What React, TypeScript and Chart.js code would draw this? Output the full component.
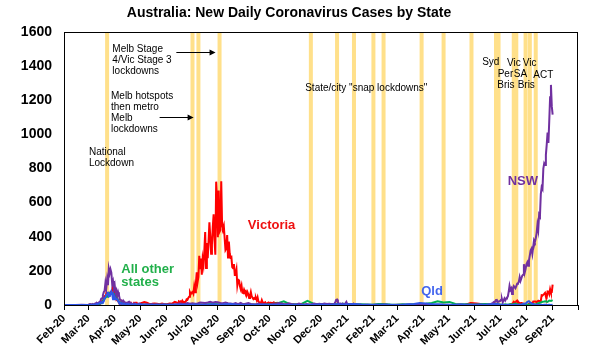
import React, { useEffect, useRef } from 'react';
import { Chart, registerables } from 'chart.js';

Chart.register(...registerables);

const FONT = '"Liberation Sans", Arial, Helvetica, sans-serif';

const chartTitle = 'Australia: New Daily Coronavirus Cases by State';

// x-axis tick labels, one per month start from Feb 2020 to Oct 2021 (last one unlabeled)
const monthLabels = [
  'Feb-20', 'Mar-20', 'Apr-20', 'May-20', 'Jun-20', 'Jul-20', 'Aug-20', 'Sep-20', 'Oct-20', 'Nov-20',
  'Dec-20', 'Jan-21', 'Feb-21', 'Mar-21', 'Apr-21', 'May-21', 'Jun-21', 'Jul-21', 'Aug-21', 'Sep-21', '',
];

// lockdown start dates (vertical bands)
const lockdownDates = [
  '2020-03-23', '2020-07-02', '2020-07-09', '2020-08-03', '2020-11-19', '2020-12-20',
  '2021-01-09', '2021-02-01', '2021-02-13', '2021-03-30', '2021-04-25', '2021-05-28',
  '2021-06-26', '2021-06-29', '2021-07-17', '2021-07-20', '2021-07-31', '2021-08-05', '2021-08-12',
];

type Segment = { from: string; every: number; values: number[] };

// ---------------- Victoria ----------------
const vicFeb20: Segment = { from: '2020-02-01', every: 7, values: [0, 0, 0, 0, 0] };
const vicFirstWave: Segment = {
  from: '2020-03-01', every: 1, values: [
    0, 2, 1, 1, 2, 1, 1, 0, 2, 3,
    2, 4, 9, 13, 8, 14, 23, 27, 29, 51,
    49, 67, 56, 56, 55, 54, 75, 70, 86, 108, 96,
    67, 51, 31, 36, 24, 14, 13, 8, 20, 9, 14, 7, 9, 6, 1, 3, 4, 11, 9, 13, 3, 4, 3, 13, 11, 13, 13, 3, 3, 7,
  ],
};
const vicMayJun20: Segment = { from: '2020-05-03', every: 3, values: [12, 17, 13, 6, 7, 9, 7, 4, 9, 5, 4, 9, 8, 19] };
const vicSecondWave: Segment = {
  from: '2020-06-15', every: 1, values: [
    12, 21, 18, 21, 13, 25, 16, 19, 17, 20, 33, 30, 41, 49, 75, 64,
    73, 77, 66, 108, 74, 127, 191, 134, 165, 288, 216, 273, 177, 270, 238, 317, 428, 217, 363, 275,
    374, 484, 403, 300, 357, 459, 532, 384, 295, 723, 627,
    397, 671, 429, 439, 725, 471, 450, 466, 394, 322, 331, 410, 278, 372, 303, 279, 282, 222, 216, 240,
    179, 182, 208, 116, 148, 149, 113, 94, 114, 73, 70,
    90, 76, 81, 59, 76, 63, 41, 55, 76, 51, 43, 35, 41, 35, 42, 28, 45, 21, 14, 14, 11, 28, 15, 14, 12, 16, 5, 10, 13, 15,
    8, 12, 6, 12, 11, 15, 13, 11, 12, 13, 4, 2, 9, 4, 3,
  ],
};
const vicQuiet: Segment = {
  from: '2020-10-22', every: 7, values: [
    3, 2, 0, 1, 0, 0, 0, 0, 0, 0, 3, 6, 1, 0, 0, 0, 5, 2, 0, 0, 0, 0, 0, 0, 0, 0, 0, 0, 0, 0, 0, 12, 9, 4, 1, 0,
  ],
};
const vicDelta: Segment = {
  from: '2021-07-01', every: 1, values: [
    0, 0, 0, 0, 0, 0, 0, 0, 0, 0, 0, 0, 1,
    2, 7, 10, 19, 16, 13, 22, 26, 14, 14, 12, 11, 11, 10, 8, 4, 1, 0,
    2, 0, 1, 6, 8, 6, 11, 7, 20, 20, 21, 21, 14, 21, 25, 22, 24, 24, 57, 55, 61, 65, 71, 50, 45, 80, 79, 64, 92, 73, 76,
    120,
  ],
};

// ---------------- NSW ----------------
const nswFeb20: Segment = { from: '2020-02-01', every: 7, values: [0, 0, 0, 1, 0] };
const nswFirstWave: Segment = {
  from: '2020-03-01', every: 1, values: [
    1, 3, 5, 3, 2, 6, 2, 3, 9, 4,
    11, 8, 14, 17, 22, 37, 39, 57, 75, 83,
    129, 97, 149, 116, 212, 186, 209, 190, 124, 140, 96,
    116, 68, 84, 53, 75, 57, 34, 30, 24, 18, 26, 20, 12, 15, 14, 10, 17, 19, 12, 6, 10, 4, 7, 9, 5, 3, 3, 2, 8, 9,
  ],
};
const nswMidYear20: Segment = {
  from: '2020-05-03', every: 3, values: [
    4, 3, 5, 2, 6, 3, 4, 2, 3, 5,
    2, 4, 3, 5, 6, 9, 7, 6, 11, 8,
    10, 7, 9, 14, 13, 12, 15, 19, 14, 18,
    16, 12, 11, 14, 10, 9, 6, 11, 5, 13, 4,
    8, 11, 6, 5, 3, 8, 4, 6, 4, 3,
    5, 7, 6, 11, 9, 6, 5, 10, 6, 4,
    3, 8, 5, 2, 6, 3, 4, 8, 5, 7,
    4, 9, 6, 7,
  ],
};
const nswNorthernBeaches: Segment = {
  from: '2020-12-14', every: 1, values: [
    5, 4, 4, 10, 18, 30, 32, 15, 8, 8, 9, 7, 5, 7, 5, 3, 10, 18,
    7, 3, 4, 6, 5, 4, 6, 4, 7, 5, 3, 2, 0, 1, 1, 0, 2, 0, 0, 0,
  ],
};
const nswQuiet21: Segment = {
  from: '2021-01-25', every: 5, values: [
    1, 0, 2, 0, 1, 0, 0, 2, 1, 0, 3, 0, 1, 2, 0, 1, 0, 1, 0, 2, 0, 1, 3, 0, 2, 1, 0, 2,
  ],
};
const nswDelta: Segment = {
  from: '2021-06-11', every: 1, values: [
    0, 0, 0, 0, 0, 0, 3, 2, 4, 6,
    9, 10, 16, 11, 22, 29, 30, 18, 19, 22,
    24, 31, 35, 16, 27, 38, 27, 38, 44, 50, 77, 112, 89, 97, 65, 97, 111, 105, 98, 110,
    124, 128, 136, 163, 141, 155, 172, 177, 239, 190, 210,
    239, 250, 230, 262, 291, 320, 330, 300, 340, 380, 370, 390, 420, 470, 440, 530, 520, 650, 690, 680,
    800, 830, 820, 880, 940, 1010, 950, 1080, 1218, 1290, 1164,
    1116,
  ],
};

// ---------------- Qld ----------------
const qldFeb20: Segment = { from: '2020-02-01', every: 7, values: [0, 0, 0, 0, 0] };
const qldFirstWave: Segment = {
  from: '2020-03-01', every: 1, values: [
    0, 0, 1, 2, 1, 1, 2, 0, 3, 4,
    6, 5, 8, 11, 10, 15, 17, 16, 21, 40,
    43, 60, 62, 78, 50, 52, 65, 80, 64, 33, 55,
    46, 35, 34, 33, 23, 14, 10, 12, 4, 9, 7, 8, 4, 2, 6, 3, 6, 3, 3, 1, 3, 4, 0, 2, 2, 4, 0, 1, 1, 3,
  ],
};
const qldWeekly: Segment = {
  from: '2020-05-03', every: 7, values: [
    2, 1, 0, 1, 2, 0, 1, 2, 1, 3, 2, 1, 4, 2, 5, 6, 3, 2, 1, 2, 1, 0, 0, 1, 2, 0, 1, 0, 2, 1, 3,
    1, 2, 4, 3, 5, 6, 3, 2, 1, 1, 3, 2, 0, 1, 4, 6, 12, 9, 4, 5, 3, 2, 1, 3, 2, 1, 3, 2, 4, 6,
  ],
};
const qldDelta: Segment = {
  from: '2021-07-01', every: 2, values: [
    3, 2, 1, 0, 1, 2, 0, 1, 2, 1, 0, 1, 2, 4, 9, 8,
    18, 22, 12, 6, 3, 2, 1, 0, 1, 0, 2, 1, 0, 1, 0, 1,
  ],
};

// ---------------- All other states ----------------
const othFeb20: Segment = { from: '2020-02-01', every: 7, values: [0, 0, 0, 0, 0] };
const othFirstWave: Segment = {
  from: '2020-03-01', every: 1, values: [
    0, 1, 0, 1, 1, 0, 1, 2, 1, 3,
    3, 5, 4, 6, 9, 10, 15, 24, 33, 35,
    44, 52, 48, 55, 64, 70, 68, 72, 68, 70, 60,
    62, 58, 52, 40, 25, 22, 14, 15, 11, 12, 10, 7, 6, 5, 9, 4, 3, 5, 2, 4, 3, 5, 2, 1, 4, 2, 3, 1, 2, 1,
  ],
};
const othWeekly: Segment = {
  from: '2020-05-03', every: 7, values: [
    3, 2, 1, 1, 2, 1, 2, 3, 2, 4, 3, 5, 6, 4, 3, 6, 5, 4, 3, 2, 4, 5, 6, 10, 22, 5, 4, 6, 24, 8, 5,
    4, 6, 5, 8, 6, 5, 4, 3, 2, 6, 5, 3, 2, 4, 3, 5, 6, 8, 12, 22, 15, 18, 6, 5, 4, 3, 4, 6, 5, 7,
  ],
};
const othDelta: Segment = {
  from: '2021-07-01', every: 2, values: [
    2, 3, 1, 4, 2, 3, 5, 2, 6, 8, 4, 3, 2, 3, 4, 2,
    3, 2, 4, 6, 5, 3, 8, 12, 15, 19, 20, 22, 18, 26, 24, 29,
  ],
};

const victoriaSegs = [vicFeb20, vicFirstWave, vicMayJun20, vicSecondWave, vicQuiet, vicDelta];
const nswSegs = [nswFeb20, nswFirstWave, nswMidYear20, nswNorthernBeaches, nswQuiet21, nswDelta];
const qldSegs = [qldFeb20, qldFirstWave, qldWeekly, qldDelta];
const otherSegs = [othFeb20, othFirstWave, othWeekly, othDelta];

// annotation texts (x in days since 1 Feb 2020, y in cases)
const notes = [
  { lines: ['National', 'Lockdown'], day: 29.5, y: 898 },
  { lines: ['Melb hotspots', 'then metro', 'Melb', 'lockdowns'], day: 55.6, y: 1225 },
  { lines: ['Melb Stage', '4/Vic Stage 3', 'lockdowns'], day: 57.2, y: 1500 },
  { lines: ['State/city "snap lockdowns"'], day: 285.3, y: 1272 },
  { lines: ['Syd'], day: 494.6, y: 1422 },
  { lines: ['Vic'], day: 524.1, y: 1418 },
  { lines: ['Vic'], day: 542.6, y: 1418 },
  { lines: ['Per'], day: 513, y: 1352 },
  { lines: ['SA'], day: 532, y: 1352 },
  { lines: ['Bris'], day: 512.6, y: 1288 },
  { lines: ['Bris'], day: 536.6, y: 1288 },
  { lines: ['ACT'], day: 555.2, y: 1348 },
];
const arrows = [
  { fromDay: 132.9, toDay: 179.3, y: 1481 },
  { fromDay: 113.1, toDay: 153.3, y: 1102 },
];
const seriesLabels = [
  { lines: ['Victoria'], day: 217.5, y: 469, color: '#EE1111' },
  { lines: ['All other', 'states'], day: 67.8, y: 209, color: '#22B04B' },
  { lines: ['Qld'], day: 422.5, y: 78, color: '#4466EE' },
  { lines: ['NSW'], day: 524.8, y: 723, color: '#7030A0' },
];

function dayIndex(iso: string): number {
  const [y, m, d] = iso.split('-').map(Number);
  return Math.round((Date.UTC(y, m - 1, d) - Date.UTC(2020, 1, 1)) / 86400000);
}

function toPoints(segs: Segment[]) {
  const pts: { x: number; y: number }[] = [];
  for (const s of segs) {
    const d0 = dayIndex(s.from);
    s.values.forEach((v, i) => pts.push({ x: d0 + i * s.every, y: v }));
  }
  return pts;
}

const monthDays = monthLabels.map((_, i) => {
  const t = Date.UTC(2020, 1 + i, 1);
  return Math.round((t - Date.UTC(2020, 1, 1)) / 86400000);
});

const bandsPlugin = {
  id: 'bands',
  beforeDatasetsDraw(chart: any) {
    const { ctx, chartArea, scales } = chart;
    ctx.save();
    ctx.fillStyle = '#FFE08A';
    for (const d of lockdownDates) {
      const px = scales.x.getPixelForValue(dayIndex(d));
      ctx.fillRect(px - 2, chartArea.top, 4, chartArea.bottom - chartArea.top);
    }
    ctx.restore();
  },
};

const notesPlugin = {
  id: 'notes',
  afterDatasetsDraw(chart: any) {
    const { ctx, chartArea, scales } = chart;
    ctx.save();
    ctx.textAlign = 'left';
    ctx.textBaseline = 'middle';
    ctx.fillStyle = '#000';
    ctx.font = `10px ${FONT}`;
    for (const n of notes) {
      const x = scales.x.getPixelForValue(n.day);
      const y = scales.y.getPixelForValue(n.y);
      n.lines.forEach((l, i) => ctx.fillText(l, x, y + i * 11));
    }
    ctx.strokeStyle = '#000';
    ctx.lineWidth = 1;
    for (const a of arrows) {
      const x0 = scales.x.getPixelForValue(a.fromDay);
      const x1 = scales.x.getPixelForValue(a.toDay);
      const y = Math.round(scales.y.getPixelForValue(a.y)) + 0.5;
      ctx.beginPath();
      ctx.moveTo(x0, y);
      ctx.lineTo(x1 - 5, y);
      ctx.stroke();
      ctx.beginPath();
      ctx.moveTo(x1, y);
      ctx.lineTo(x1 - 6, y - 3);
      ctx.lineTo(x1 - 6, y + 3);
      ctx.closePath();
      ctx.fill();
    }
    ctx.font = `bold 13px ${FONT}`;
    for (const s of seriesLabels) {
      ctx.fillStyle = s.color;
      const x = scales.x.getPixelForValue(s.day);
      const y = scales.y.getPixelForValue(s.y);
      s.lines.forEach((l, i) => ctx.fillText(l, x, y + i * 13));
    }
    ctx.strokeStyle = '#000';
    ctx.lineWidth = 1;
    ctx.strokeRect(chartArea.left + 0.5, chartArea.top + 0.5, chartArea.right - chartArea.left - 1, chartArea.bottom - chartArea.top);
    ctx.restore();
  },
};

export default function App() {
  const ref = useRef<HTMLCanvasElement | null>(null);
  useEffect(() => {
    if (!ref.current) return;
    Chart.defaults.font.family = FONT;
    const line = (label: string, segs: Segment[], color: string, order: number) => ({
      label,
      data: toPoints(segs),
      borderColor: color,
      backgroundColor: color,
      borderWidth: 2,
      pointRadius: 0,
      tension: 0,
      fill: false,
      order,
    });
    const chart = new Chart(ref.current, {
      type: 'line',
      data: {
        datasets: [
          line('Victoria', victoriaSegs, '#FF0000', 4),
          line('All other states', otherSegs, '#00B050', 3),
          line('NSW', nswSegs, '#7030A0', 2),
          line('Qld', qldSegs, '#2F55E8', 1),
        ],
      },
      options: {
        responsive: false,
        animation: false,
        devicePixelRatio: 1,
        layout: { padding: { left: 0, right: 36, top: 0, bottom: 0 } },
        plugins: {
          legend: { display: false },
          tooltip: { enabled: false },
          title: {
            display: true,
            text: chartTitle,
            color: '#000',
            font: { size: 14, weight: 'bold', family: FONT, lineHeight: 1.2 },
            padding: { top: 5, bottom: 10.2 },
          },
        },
        scales: {
          x: {
            type: 'linear',
            min: 0,
            max: monthDays[monthDays.length - 1],
            offset: false,
            afterBuildTicks: (axis: any) => {
              axis.ticks = monthDays.map((v) => ({ value: v }));
            },
            afterFit: (axis: any) => {
              axis.height = 58;
            },
            ticks: {
              autoSkip: false,
              maxRotation: 45,
              minRotation: 45,
              color: '#000',
              padding: 2,
              font: { size: 11, weight: 'bold', family: FONT },
              callback: (_v: any, i: number) => monthLabels[i],
            },
            grid: { display: true, drawOnChartArea: false, drawTicks: true, tickLength: 5, color: '#000' },
            border: { display: true, color: '#000', width: 1 },
          },
          y: {
            min: 0,
            max: 1600,
            afterFit: (axis: any) => {
              axis.width = 64;
            },
            ticks: {
              stepSize: 200,
              color: '#000',
              padding: 12,
              font: { size: 14, weight: 'bold', family: FONT },
              callback: (v: any) => String(v),
            },
            grid: { display: false, drawTicks: false },
            border: { display: true, color: '#000', width: 1 },
          },
        },
      },
      plugins: [bandsPlugin, notesPlugin],
    } as any);
    return () => chart.destroy();
  }, []);
  return (
    <div style={{ position: 'absolute', left: 0, top: 0, width: 614, height: 363, background: '#fff' }}>
      <canvas ref={ref} width={614} height={363} />
    </div>
  );
}
